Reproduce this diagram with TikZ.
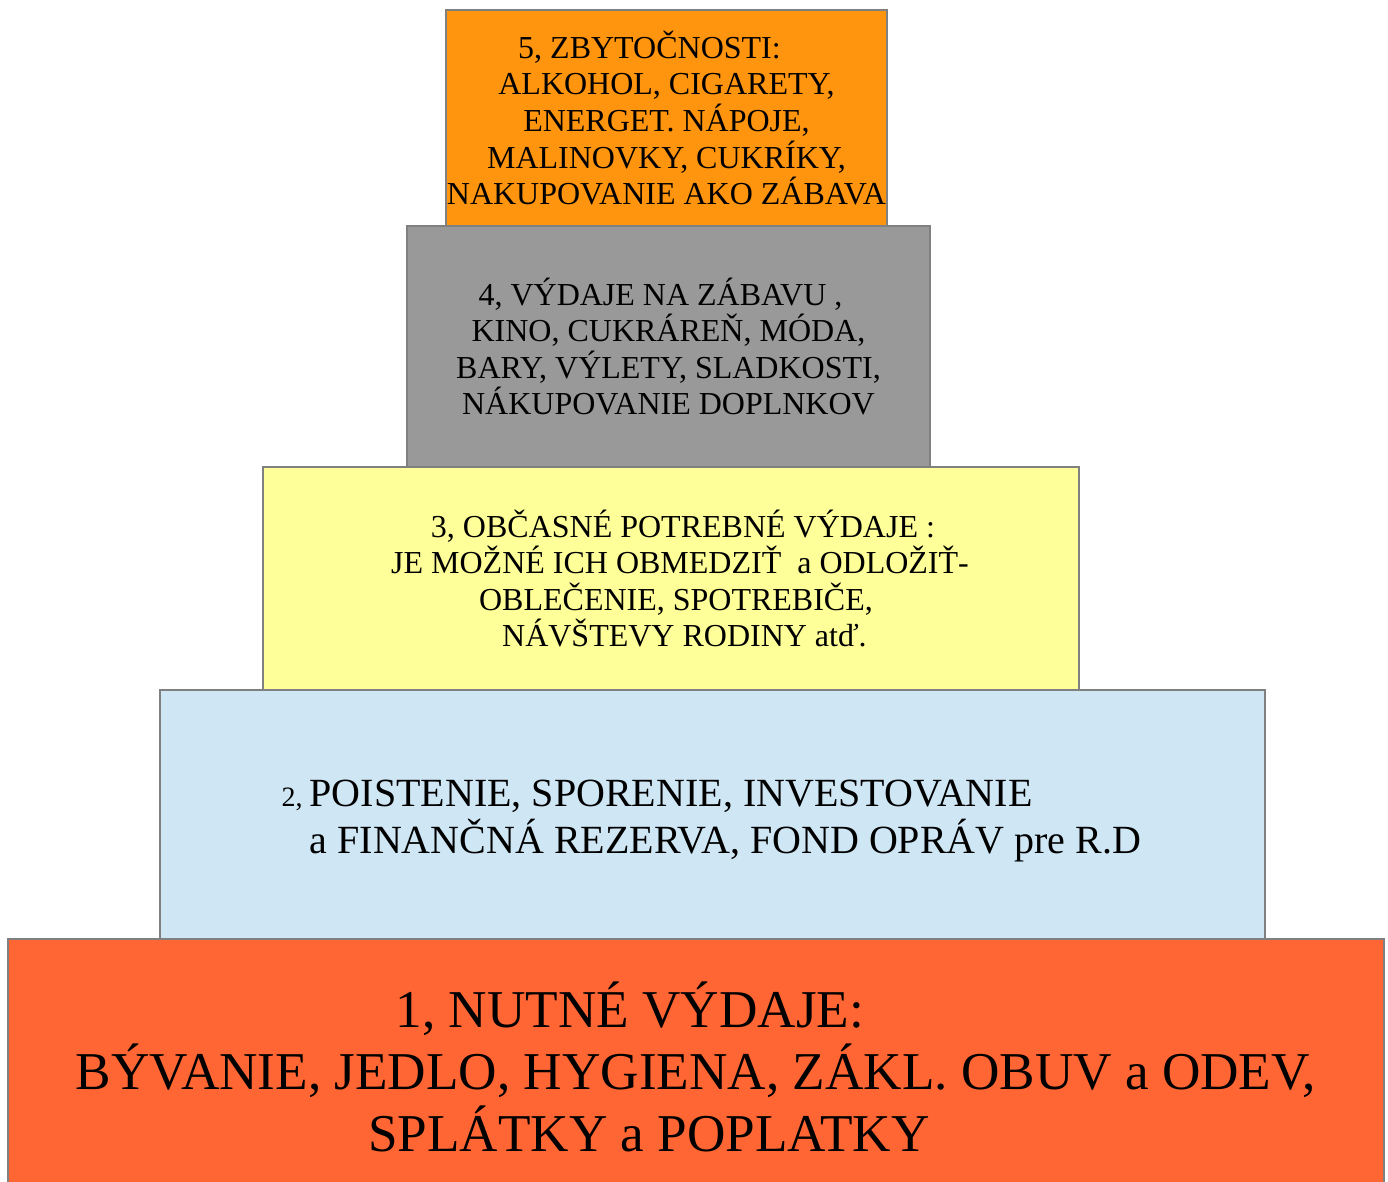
\documentclass[tikz,border=0pt]{standalone}
\usepackage{fontspec}
\setmainfont{Liberation Serif}
\usetikzlibrary{positioning}
\definecolor{needred}{HTML}{FF6633}
\definecolor{saveblue}{HTML}{CFE7F5}
\definecolor{occyellow}{HTML}{FFFF99}
\definecolor{fungray}{HTML}{999999}
\definecolor{luxorange}{HTML}{FF950E}
\definecolor{edgegray}{HTML}{808080}
\tikzset{
  % One step of the pyramid
  tier/.style={
    draw=edgegray, fill=#1, line width=1pt,
    outer sep=0pt, inner sep=0pt,
    align=center, text=black,
  },
  smalltext/.style={font=\fontsize{16}{18.3}\selectfont},
  midtext/.style={font=\fontsize{20}{23.5}\selectfont},
  bigtext/.style={font=\fontsize{26.6}{31}\selectfont},
}
\begin{document}
\begin{tikzpicture}[x=0.5pt, y=0.5pt]
  \useasboundingbox (0,0) rectangle (1388,1182);
  \clip (0,0) rectangle (1388,1182);
  \node[tier=needred, bigtext, minimum width=688pt, minimum height=128pt]
    (need) at (696,115)
    {1, NUTNÉ VÝDAJE:\hspace*{66pt}\\
     BÝVANIE, JEDLO, HYGIENA, ZÁKL. OBUV a ODEV,\\
     SPLÁTKY a POPLATKY\hspace*{47pt}};
  \node[tier=saveblue, midtext, align=left, minimum width=552.5pt,
    minimum height=124.5pt, above=0pt of need, xshift=8.25pt] (save)
    {\rule{0pt}{19.5pt}\hspace*{13pt}\llap{\fontsize{14}{16}\selectfont 2,\ }POISTENIE, SPORENIE, INVESTOVANIE\\
     \hspace*{13pt}a FINANČNÁ REZERVA, FOND OPRÁV pre R.D};
  \node[tier=occyellow, smalltext, minimum width=408pt,
    minimum height=111.5pt, above=0pt of save, xshift=-20.75pt] (occasional)
    {\hspace*{12pt}3, OBČASNÉ POTREBNÉ VÝDAJE :\\
     \hspace*{9pt}JE MOŽNÉ ICH OBMEDZIŤ~ a ODLOŽIŤ-\\
     \hspace*{5pt}OBLEČENIE, SPOTREBIČE,\\
     \hspace*{13.5pt}NÁVŠTEVY RODINY atď.};
  \node[tier=fungray, smalltext, minimum width=261.5pt,
    minimum height=120.5pt, above=0pt of occasional, xshift=-1.25pt] (fun)
    {4, VÝDAJE NA ZÁBAVU ,\hspace*{8pt}\\
     KINO, CUKRÁREŇ, MÓDA,\\
     BARY, VÝLETY, SLADKOSTI,\\
     NÁKUPOVANIE DOPLNKOV};
  \node[tier=luxorange, smalltext, minimum width=220.5pt,
    minimum height=108pt, above=0pt of fun, xshift=-1pt] (luxury)
    {5, ZBYTOČNOSTI:\hspace*{17pt}\\
     ALKOHOL, CIGARETY,\\
     ENERGET. NÁPOJE,\\
     MALINOVKY, CUKRÍKY,\\
     NAKUPOVANIE AKO ZÁBAVA};
\end{tikzpicture}
\end{document}
